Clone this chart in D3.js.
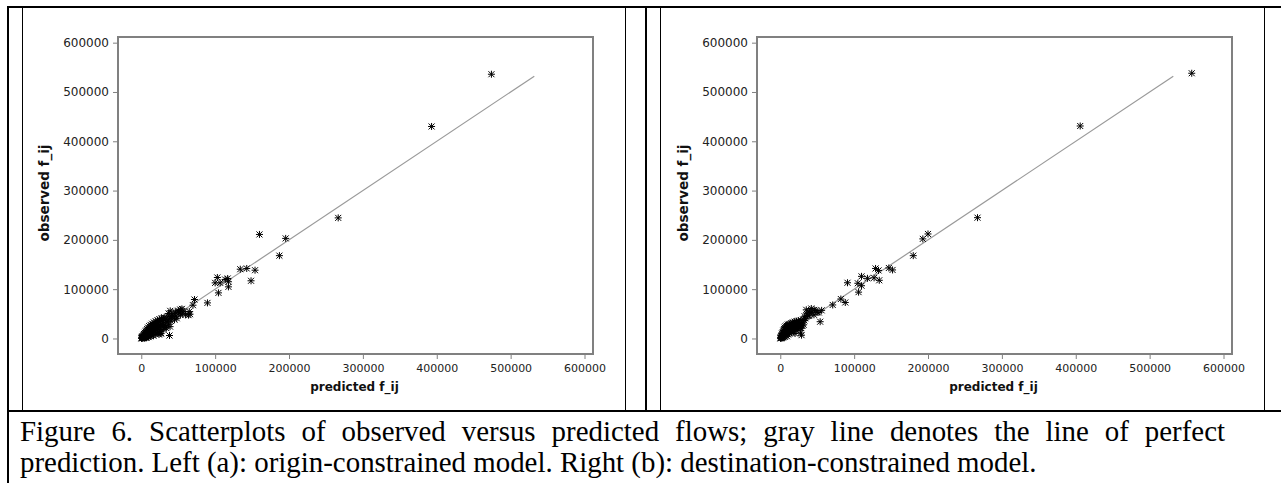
<!DOCTYPE html>
<html>
<head>
<meta charset="utf-8">
<script src="https://cdn.jsdelivr.net/npm/d3@7"></script>
<style>
    body { margin: 0; background: #fff; }
    svg { display: block; }
</style>
</head>
<body>
<div id="figure"></div>
<script>
// Axis ticks shared by both panels
const tickValues = [0, 100000, 200000, 300000, 400000, 500000, 600000];
const axisDomain = [-31500, 611500];
// Line of perfect prediction (start and end)
const perfectLine = [0, 532000];

const xLabel = "predicted f_ij";
const yLabel = "observed f_ij";

// (a) origin-constrained model: [predicted, observed]
const flowsA = [
    [300, 400], [600, 1500], [900, 200], [1100, 3200], [1400, 1100], [1700, 5000], [2000, 2200],
    [2300, 600], [2600, 4100], [2900, 7300], [3200, 1800], [3500, 3000], [3800, 9000], [4100, 5600],
    [4400, 900], [4700, 11500], [5000, 3700], [5300, 7200], [5600, 2100], [5900, 13800], [6200, 9400],
    [6500, 5000], [6800, 16000], [7100, 1600], [7400, 11800], [7700, 7300], [8000, 19000], [8300, 3900],
    [8600, 14200], [8900, 9600], [9200, 22000], [9500, 6000], [9800, 17000], [10100, 2800], [10400, 12400],
    [10700, 25000], [11000, 8200], [11400, 19500], [11800, 14500], [12200, 4800], [12600, 27500],
    [13000, 10800], [13400, 22000], [13800, 16600], [14200, 7000], [14600, 30000], [15000, 12600],
    [15500, 24500], [16000, 18800], [16500, 5500], [17000, 32500], [17500, 14800], [18000, 27000],
    [18500, 21000], [19000, 9200], [19500, 35000], [20000, 16800], [20500, 29000], [21000, 23500],
    [21500, 12000], [22000, 37000], [22500, 19000], [23000, 31500], [23500, 26000], [24000, 8000],
    [24500, 39000], [25000, 21500], [25500, 33800], [26000, 14500], [26500, 28500], [27000, 10500],
    [27500, 41000], [28000, 24000], [29000, 36000], [29500, 18000], [30000, 31000], [31000, 43000],
    [32000, 26500], [33000, 38500], [34000, 21000], [35000, 33500], [36000, 45000], [37000, 29000],
    [38000, 40000], [38200, 6000], [39000, 24000], [40000, 35500], [25700, 10000], [32400, 22300],
    [30000, 40500], [37000, 50700], [39200, 56000], [41400, 43800], [41000, 47000], [42000, 43500],
    [44000, 50500], [45000, 38000], [46000, 54000], [47000, 45000], [48000, 41000], [50000, 56500],
    [50400, 54000], [51000, 52000], [52700, 58800], [53000, 47500], [55000, 60000], [56000, 51000],
    [58000, 55000], [60000, 48000], [64000, 47300], [65000, 54500], [66000, 49300], [70000, 67500],
    [72000, 79000], [89600, 72200], [100000, 112800], [103000, 123700], [104500, 92500], [106800, 112800],
    [113500, 119700], [117000, 121700], [118000, 115000], [118000, 104700], [134000, 140500],
    [142800, 142000], [154000, 138500], [148600, 117000], [160000, 211000], [187000, 168000],
    [195500, 203000], [266600, 244600], [393000, 430000], [474000, 536000]
];

// (b) destination-constrained model: [predicted, observed]
const flowsB = [
    [300, 500], [600, 2000], [900, 300], [1200, 4500], [1500, 1200], [1800, 7000], [2100, 3000],
    [2400, 10000], [2700, 1000], [3000, 5500], [3300, 13000], [3600, 8000], [3900, 2500], [4200, 16000],
    [4500, 11000], [4800, 5000], [5100, 19000], [5400, 14000], [5700, 8500], [6000, 22000], [6300, 3500],
    [6600, 17000], [6900, 12000], [7200, 24500], [7500, 6500], [7800, 20000], [8100, 15000], [8400, 10000],
    [8700, 26000], [9000, 4500], [9300, 22500], [9600, 17500], [9900, 12500], [10200, 28000], [10600, 8000],
    [11000, 24500], [11400, 19500], [11800, 14500], [11900, 27700], [12200, 29500], [12600, 10500],
    [13000, 26000], [13500, 21000], [14000, 16000], [14500, 31000], [15000, 12000], [15500, 27500],
    [16000, 22500], [16500, 18000], [17000, 32500], [17100, 31100], [17500, 14000], [18000, 29000],
    [18500, 24500], [19000, 20000], [19500, 34000], [20000, 10000], [20500, 30500], [21000, 26000],
    [21500, 16500], [22000, 35000], [22300, 24300], [22500, 22000], [23000, 31500], [23500, 27500],
    [24000, 19000], [24500, 36000], [25000, 24000], [25500, 33000], [26000, 29000], [27000, 21000],
    [27500, 11000], [28000, 37000], [28500, 21000], [28800, 6700], [29000, 31000], [30000, 25500],
    [31000, 38500], [31600, 27700], [32600, 36500], [33000, 45000], [34000, 41000], [35200, 58100],
    [36000, 50000], [37000, 46000], [38900, 46000], [39000, 55000], [40000, 52000], [42000, 60800],
    [43000, 54000], [45600, 48000], [46000, 58000], [48200, 56800], [50000, 53000], [52300, 52700],
    [54000, 34000], [56000, 57000], [71000, 68000], [82000, 80000], [88000, 73000], [91000, 113000],
    [105000, 112000], [106000, 94000], [110000, 107000], [110000, 126000], [118000, 122000],
    [127000, 123000], [129000, 142000], [133000, 138000], [134000, 118000], [147000, 143000],
    [152000, 139000], [180000, 168000], [193000, 202000], [200000, 212000], [267000, 245000],
    [406000, 431000], [557000, 538000]
];

const captionLines = [
    "Figure 6. Scatterplots of observed versus predicted flows; gray line denotes the line of perfect",
    "prediction. Left (a): origin-constrained model. Right (b): destination-constrained model."
];

const width = 1281;
const height = 483;

const svg = d3.select("#figure")
    .append("svg")
    .attr("width", width)
    .attr("height", height);

svg.append("rect").attr("width", width).attr("height", height).attr("fill", "#fff");

// Table rules round the two figures and the caption
const rules = svg.append("g").attr("stroke", "#000").attr("shape-rendering", "crispEdges");
rules.append("line").attr("x1", 7).attr("x2", width).attr("y1", 7).attr("y2", 7).attr("stroke-width", 2);
rules.append("line").attr("x1", 7).attr("x2", width).attr("y1", 411).attr("y2", 411).attr("stroke-width", 2);
rules.append("line").attr("x1", 8).attr("x2", 8).attr("y1", 6).attr("y2", height).attr("stroke-width", 2);
rules.append("line").attr("x1", 646).attr("x2", 646).attr("y1", 6).attr("y2", 411).attr("stroke-width", 2);
[22.5, 625.5, 660.5, 1264.5].forEach((x) => {
    rules.append("line").attr("x1", x).attr("x2", x).attr("y1", 6).attr("y2", 410).attr("stroke-width", 1);
});

const scatterPanel = (data, offsetX) => {
    const left = 118 + offsetX;
    const right = 593 + offsetX;
    const top = 37;
    const bottom = 354;

    const x = d3.scaleLinear().domain(axisDomain).range([left, right]);
    const y = d3.scaleLinear().domain(axisDomain).range([bottom, top]);

    const g = svg.append("g");

    // Frame
    g.append("rect")
        .attr("x", left)
        .attr("y", top)
        .attr("width", right - left)
        .attr("height", bottom - top)
        .attr("fill", "none")
        .attr("stroke", "#808080")
        .attr("stroke-width", 2);

    // Axes
    const yAxis = g.append("g")
        .attr("transform", `translate(${left - 1}, 0)`)
        .call(d3.axisLeft(y).tickValues(tickValues).tickSize(4).tickPadding(4).tickFormat(d3.format("d")));
    yAxis.select(".domain").remove();
    yAxis.selectAll("line").attr("stroke", "#808080");
    yAxis.selectAll("text")
        .attr("fill", "#222")
        .style("font-family", "'DejaVu Sans', Verdana, sans-serif")
        .style("font-size", "12px");

    const xAxis = g.append("g")
        .attr("transform", `translate(0, ${bottom + 1})`)
        .call(d3.axisBottom(x).tickValues(tickValues).tickSize(4).tickPadding(5).tickFormat(d3.format("d")));
    xAxis.select(".domain").remove();
    xAxis.selectAll("line").attr("stroke", "#808080");
    xAxis.selectAll("text")
        .attr("fill", "#222")
        .style("font-family", "'DejaVu Sans', Verdana, sans-serif")
        .style("font-size", "11px");

    // Axis titles
    g.append("text")
        .attr("x", (left + right) / 2 - 1)
        .attr("y", 391)
        .attr("text-anchor", "middle")
        .style("font-family", "'DejaVu Sans', Verdana, sans-serif")
        .style("font-size", "12px")
        .style("font-weight", "bold")
        .attr("fill", "#111")
        .text(xLabel);

    g.append("text")
        .attr("transform", `translate(${offsetX + 49}, 193) rotate(-90)`)
        .attr("text-anchor", "middle")
        .style("font-family", "'DejaVu Sans', Verdana, sans-serif")
        .style("font-size", "13.5px")
        .style("font-weight", "bold")
        .attr("fill", "#111")
        .text(yLabel);

    // Line of perfect prediction
    g.append("line")
        .attr("x1", x(perfectLine[0]))
        .attr("y1", y(perfectLine[0]))
        .attr("x2", x(perfectLine[1]))
        .attr("y2", y(perfectLine[1]))
        .attr("stroke", "#9a9a9a")
        .attr("stroke-width", 1.2);

    // Asterisk markers
    const asterisk = "M0,-3.5V3.5M-3.5,0H3.5M-3,-3L3,3M-3,3L3,-3";
    g.append("g")
        .selectAll("path")
        .data(data)
        .enter()
        .append("path")
        .attr("transform", (d) => `translate(${x(d[0])}, ${y(d[1])})`)
        .attr("d", asterisk)
        .attr("fill", "none")
        .attr("stroke", "#000")
        .attr("stroke-width", 1);
};

scatterPanel(flowsA, 0);
scatterPanel(flowsB, 639);

// Caption: second line sets the size, first line is justified to the cell width
const caption = svg.append("g")
    .style("font-family", "'Liberation Serif', 'Times New Roman', serif")
    .attr("fill", "#000");
const lines = caption.selectAll("text")
    .data(captionLines)
    .enter()
    .append("text")
    .attr("x", 20)
    .attr("y", (d, i) => 441 + i * 31)
    .style("font-size", "26px")
    .text((d) => d);
const secondWidth = lines.nodes()[1].getComputedTextLength();
lines.style("font-size", `${26 * 1017 / secondWidth}px`);
const firstLine = lines.filter((d, i) => i === 0);
const firstWidth = firstLine.node().getComputedTextLength();
const spaces = captionLines[0].split(" ").length - 1;
firstLine.style("word-spacing", `${Math.max(0, (1205 - firstWidth) / spaces)}px`);
</script>
</body>
</html>
